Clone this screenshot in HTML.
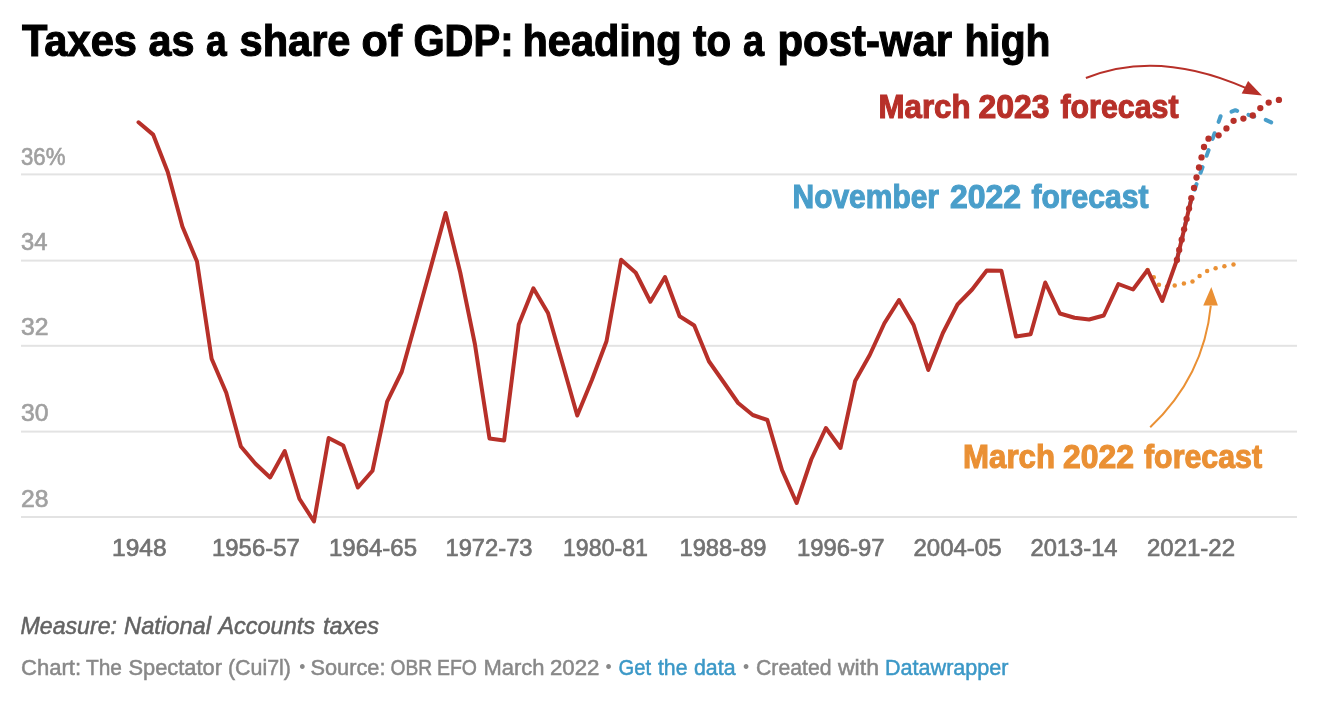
<!DOCTYPE html>
<html lang="en"><head><meta charset="utf-8"><title>Taxes as a share of GDP</title>
<style>
html,body{margin:0;padding:0;background:#fff;}
body{width:1328px;height:716px;overflow:hidden;position:relative;font-family:"Liberation Sans",sans-serif;}
svg{position:absolute;left:0;top:0;}
text{font-family:"Liberation Sans",sans-serif;}
.title{font-size:44px;font-weight:700;fill:#000;stroke:#000;stroke-width:1.1px;}
.yl{font-size:24.6px;fill:#a0a0a0;stroke:#a0a0a0;stroke-width:0.65px;}
.xl{font-size:24.6px;fill:#727272;stroke:#727272;stroke-width:0.7px;}
.ann{font-size:32.6px;font-weight:700;stroke-width:1.1px;}
.note{font-size:24px;font-style:italic;fill:#636363;stroke:#636363;stroke-width:0.5px;}
.foot{font-size:22px;fill:#888;stroke:#888;stroke-width:0.5px;}
.bul{font-size:17.5px;stroke-width:0;}
.lnk{fill:#3b98c7;stroke:#3b98c7;}
</style></head><body>
<svg width="1328" height="716" viewBox="0 0 1328 716">
<rect x="21" y="173.40" width="1276" height="2" fill="#e3e3e3"/><rect x="21" y="259.60" width="1276" height="2" fill="#e3e3e3"/><rect x="21" y="344.80" width="1276" height="2" fill="#e3e3e3"/><rect x="21" y="430.60" width="1276" height="2" fill="#e3e3e3"/><rect x="21" y="516.00" width="1276" height="2" fill="#e3e3e3"/>
<circle cx="1147.6" cy="270" r="2.25" fill="#ea9034"/><circle cx="1153.75" cy="277.2" r="2.25" fill="#ea9034"/><circle cx="1158.95" cy="284.8" r="2.25" fill="#ea9034"/><circle cx="1167" cy="286.6" r="2.25" fill="#ea9034"/><circle cx="1174.7" cy="285.6" r="2.25" fill="#ea9034"/><circle cx="1183.9" cy="283.6" r="2.25" fill="#ea9034"/><circle cx="1192.5" cy="281.4" r="2.25" fill="#ea9034"/><circle cx="1199.6" cy="275.9" r="2.25" fill="#ea9034"/><circle cx="1207.15" cy="270.9" r="2.25" fill="#ea9034"/><circle cx="1215.6" cy="268.3" r="2.25" fill="#ea9034"/><circle cx="1224.4" cy="266.3" r="2.25" fill="#ea9034"/><circle cx="1233.5" cy="264.6" r="2.25" fill="#ea9034"/>
<path d="M1176.88,260.00 L1191.50,198.20 L1206.10,157.20 L1220.75,115.80 L1235.40,110.20 L1250.00,115.30 L1264.60,119.30 L1279.25,126.00" fill="none" stroke="#499eca" stroke-width="4" stroke-linecap="round" stroke-linejoin="round" stroke-dasharray="6 12" stroke-dashoffset="-0.5"/>
<path d="M138.50,122.30 L153.12,134.60 L167.75,172.10 L182.38,226.50 L197.00,261.50 L211.62,358.75 L226.25,392.75 L240.88,446.50 L255.50,463.75 L270.12,477.50 L284.75,451.00 L299.38,498.75 L314.00,521.50 L328.62,438.00 L343.25,445.50 L357.88,487.50 L372.50,470.75 L387.12,401.60 L401.75,371.75 L416.38,319.50 L431.00,266.50 L445.62,213.00 L460.25,272.50 L474.88,344.00 L489.50,438.50 L504.12,440.50 L518.75,324.50 L533.38,288.25 L548.00,313.00 L562.62,364.00 L577.25,415.50 L591.88,380.00 L606.50,341.25 L621.12,259.75 L635.75,272.75 L650.38,301.75 L665.00,277.00 L679.62,316.25 L694.25,325.50 L708.88,361.25 L723.50,382.00 L738.12,403.00 L752.75,415.00 L767.38,420.00 L782.00,470.00 L796.62,503.00 L811.25,459.50 L825.88,428.00 L840.50,448.00 L855.12,381.00 L869.75,355.00 L884.38,323.25 L899.00,300.00 L913.62,325.00 L928.25,370.00 L942.88,333.00 L957.50,304.50 L972.12,289.50 L986.75,270.50 L1001.38,270.75 L1016.00,336.50 L1030.62,334.25 L1045.25,282.50 L1059.88,313.50 L1074.50,317.75 L1089.12,319.50 L1103.75,315.50 L1118.38,284.00 L1133.00,289.50 L1147.62,270.00 L1162.25,301.00 L1176.88,260.00 L1191.50,198.20" fill="none" stroke="#b73029" stroke-width="4" stroke-linejoin="round" stroke-linecap="round"/>
<circle cx="1176.9" cy="260" r="3.15" fill="#b73029"/><circle cx="1179.2" cy="250" r="3.15" fill="#b73029"/><circle cx="1181.7" cy="239.7" r="3.15" fill="#b73029"/><circle cx="1184.1" cy="229.3" r="3.15" fill="#b73029"/><circle cx="1186.6" cy="218.9" r="3.15" fill="#b73029"/><circle cx="1189.05" cy="208.6" r="3.15" fill="#b73029"/><circle cx="1191.3" cy="198.2" r="3.15" fill="#b73029"/><circle cx="1194.0" cy="187.9" r="3.15" fill="#b73029"/><circle cx="1196.5" cy="177.5" r="3.15" fill="#b73029"/><circle cx="1199.0" cy="167.5" r="3.15" fill="#b73029"/><circle cx="1201.5" cy="157.4" r="3.15" fill="#b73029"/><circle cx="1204.0" cy="147.0" r="3.15" fill="#b73029"/><circle cx="1208.5" cy="138.7" r="3.15" fill="#b73029"/><circle cx="1218.6" cy="135.3" r="3.15" fill="#b73029"/><circle cx="1226.45" cy="128.45" r="3.15" fill="#b73029"/><circle cx="1233.6" cy="120.8" r="3.15" fill="#b73029"/><circle cx="1243.4" cy="118.6" r="3.15" fill="#b73029"/><circle cx="1252.75" cy="115.5" r="3.15" fill="#b73029"/><circle cx="1260.3" cy="108.1" r="3.15" fill="#b73029"/><circle cx="1268.7" cy="102.6" r="3.15" fill="#b73029"/><circle cx="1278.9" cy="99.9" r="3.15" fill="#b73029"/>
<path d="M1085.9,78 Q1157.4,49 1246.2,88.1" fill="none" stroke="#b73029" stroke-width="2"/>
<path d="M1262,95.5 L1248.1,81.1 L1241.7,93.6 Z" fill="#b73029"/>
<path d="M1150.2,427.3 Q1203.9,376.4 1210.8,305.6" fill="none" stroke="#ea9034" stroke-width="2"/>
<path d="M1211.3,287.1 L1203.2,305.4 L1217.9,305.4 Z" fill="#ea9034"/>
<text x="21.99" y="55.6" class="title" textLength="114.99" lengthAdjust="spacingAndGlyphs">Taxes</text>
<text x="148.50" y="55.6" class="title" textLength="45.99" lengthAdjust="spacingAndGlyphs">as</text>
<text x="206.06" y="55.6" class="title" textLength="20.69" lengthAdjust="spacingAndGlyphs">a</text>
<text x="239.50" y="55.6" class="title" textLength="111.00" lengthAdjust="spacingAndGlyphs">share</text>
<text x="361.51" y="55.6" class="title" textLength="40.57" lengthAdjust="spacingAndGlyphs">of</text>
<text x="413.49" y="55.6" class="title" textLength="100.06" lengthAdjust="spacingAndGlyphs">GDP:</text>
<text x="522.47" y="55.6" class="title" textLength="159.06" lengthAdjust="spacingAndGlyphs">heading</text>
<text x="692.98" y="55.6" class="title" textLength="38.00" lengthAdjust="spacingAndGlyphs">to</text>
<text x="743.01" y="55.6" class="title" textLength="21.08" lengthAdjust="spacingAndGlyphs">a</text>
<text x="777.51" y="55.6" class="title" textLength="174.50" lengthAdjust="spacingAndGlyphs">post-war</text>
<text x="964.46" y="55.6" class="title" textLength="86.07" lengthAdjust="spacingAndGlyphs">high</text>
<text x="21.00" y="164.6" class="yl" textLength="44.48" lengthAdjust="spacingAndGlyphs">36%</text>
<text x="21.01" y="250.10000000000002" class="yl" textLength="26.46" lengthAdjust="spacingAndGlyphs">34</text>
<text x="20.99" y="335.3" class="yl" textLength="27.51" lengthAdjust="spacingAndGlyphs">32</text>
<text x="20.98" y="421.1" class="yl" textLength="27.51" lengthAdjust="spacingAndGlyphs">30</text>
<text x="21.00" y="506.5" class="yl" textLength="27.51" lengthAdjust="spacingAndGlyphs">28</text>
<text x="112.00" y="555.6" class="xl" textLength="54.51" lengthAdjust="spacingAndGlyphs">1948</text>
<text x="212.00" y="555.6" class="xl" textLength="87.75" lengthAdjust="spacingAndGlyphs">1956-57</text>
<text x="329.00" y="555.6" class="xl" textLength="88.02" lengthAdjust="spacingAndGlyphs">1964-65</text>
<text x="445.50" y="555.6" class="xl" textLength="87.00" lengthAdjust="spacingAndGlyphs">1972-73</text>
<text x="562.99" y="555.6" class="xl" textLength="85.01" lengthAdjust="spacingAndGlyphs">1980-81</text>
<text x="679.51" y="555.6" class="xl" textLength="87.00" lengthAdjust="spacingAndGlyphs">1988-89</text>
<text x="796.99" y="555.6" class="xl" textLength="87.52" lengthAdjust="spacingAndGlyphs">1996-97</text>
<text x="913.49" y="555.6" class="xl" textLength="88.02" lengthAdjust="spacingAndGlyphs">2004-05</text>
<text x="1030.50" y="555.6" class="xl" textLength="87.00" lengthAdjust="spacingAndGlyphs">2013-14</text>
<text x="1147.00" y="555.6" class="xl" textLength="88.00" lengthAdjust="spacingAndGlyphs">2021-22</text>
<text x="878.48" y="117.5" class="ann" fill="#b73029" stroke="#b73029" textLength="92.03" lengthAdjust="spacingAndGlyphs">March</text>
<text x="978.50" y="117.5" class="ann" fill="#b73029" stroke="#b73029" textLength="70.99" lengthAdjust="spacingAndGlyphs">2023</text>
<text x="1060.49" y="117.5" class="ann" fill="#b73029" stroke="#b73029" textLength="118.01" lengthAdjust="spacingAndGlyphs">forecast</text>
<text x="792.51" y="207.5" class="ann" fill="#499eca" stroke="#499eca" textLength="146.49" lengthAdjust="spacingAndGlyphs">November</text>
<text x="950.01" y="207.5" class="ann" fill="#499eca" stroke="#499eca" textLength="70.98" lengthAdjust="spacingAndGlyphs">2022</text>
<text x="1031.47" y="207.5" class="ann" fill="#499eca" stroke="#499eca" textLength="117.05" lengthAdjust="spacingAndGlyphs">forecast</text>
<text x="962.99" y="467.7" class="ann" fill="#ea9034" stroke="#ea9034" textLength="92.02" lengthAdjust="spacingAndGlyphs">March</text>
<text x="1063.00" y="467.7" class="ann" fill="#ea9034" stroke="#ea9034" textLength="70.99" lengthAdjust="spacingAndGlyphs">2022</text>
<text x="1144.00" y="467.7" class="ann" fill="#ea9034" stroke="#ea9034" textLength="118.02" lengthAdjust="spacingAndGlyphs">forecast</text>
<text x="20.51" y="633.6" class="note" textLength="96.49" lengthAdjust="spacingAndGlyphs">Measure:</text>
<text x="124.00" y="633.6" class="note" textLength="87.05" lengthAdjust="spacingAndGlyphs">National</text>
<text x="218.43" y="633.6" class="note" textLength="96.57" lengthAdjust="spacingAndGlyphs">Accounts</text>
<text x="323.01" y="633.6" class="note" textLength="56.00" lengthAdjust="spacingAndGlyphs">taxes</text>
<text x="20.99" y="674.8" class="foot" textLength="60.04" lengthAdjust="spacingAndGlyphs">Chart:</text>
<text x="85.97" y="674.8" class="foot" textLength="36.03" lengthAdjust="spacingAndGlyphs">The</text>
<text x="128.50" y="674.8" class="foot" textLength="93.51" lengthAdjust="spacingAndGlyphs">Spectator</text>
<text x="227.99" y="674.8" class="foot" textLength="63.01" lengthAdjust="spacingAndGlyphs">(Cui7l)</text>
<text x="302.2" y="673.4" class="foot bul" text-anchor="middle">•</text>
<text x="310.48" y="674.8" class="foot" textLength="75.04" lengthAdjust="spacingAndGlyphs">Source:</text>
<text x="390.50" y="674.8" class="foot" textLength="41.50" lengthAdjust="spacingAndGlyphs">OBR</text>
<text x="436.99" y="674.8" class="foot" textLength="40.03" lengthAdjust="spacingAndGlyphs">EFO</text>
<text x="483.48" y="674.8" class="foot" textLength="61.02" lengthAdjust="spacingAndGlyphs">March</text>
<text x="549.99" y="674.8" class="foot" textLength="49.53" lengthAdjust="spacingAndGlyphs">2022</text>
<text x="608.6" y="673.4" class="foot bul" text-anchor="middle">•</text>
<text x="618.55" y="674.8" class="foot lnk" textLength="32.49" lengthAdjust="spacingAndGlyphs">Get</text>
<text x="657.94" y="674.8" class="foot lnk" textLength="29.56" lengthAdjust="spacingAndGlyphs">the</text>
<text x="694.01" y="674.8" class="foot lnk" textLength="41.53" lengthAdjust="spacingAndGlyphs">data</text>
<text x="746.1" y="673.4" class="foot bul" text-anchor="middle">•</text>
<text x="756.01" y="674.8" class="foot" textLength="75.49" lengthAdjust="spacingAndGlyphs">Created</text>
<text x="837.97" y="674.8" class="foot" textLength="41.00" lengthAdjust="spacingAndGlyphs">with</text>
<text x="885.01" y="674.8" class="foot lnk" textLength="123.50" lengthAdjust="spacingAndGlyphs">Datawrapper</text>
</svg>
</body></html>
